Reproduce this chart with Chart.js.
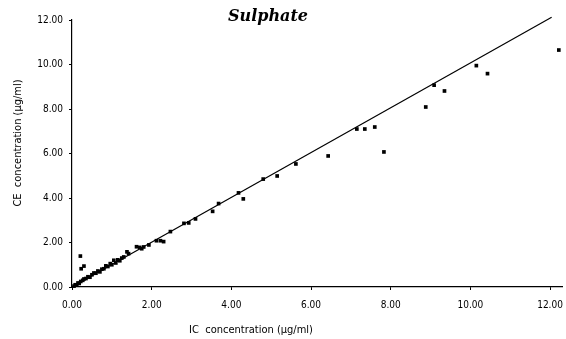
<!DOCTYPE html>
<html>
<head>
<meta charset="utf-8">
<script src="https://cdn.jsdelivr.net/npm/chart.js@4"></script>
<style>
  body { margin: 0; background: #fff; }
  #wrap { width: 566px; height: 339px; }
</style>
</head>
<body>
<div id="wrap"><canvas id="myChart" width="566" height="339"></canvas></div>
<script>
// measured pairs, IC (x) vs CE (y), in µg/ml
const icValues = [
  0.05, 0.08, 0.12, 0.15, 0.18, 0.21, 0.23, 0.30, 0.22, 0.27,
  0.30, 0.35, 0.40, 0.45, 0.50, 0.55, 0.60, 0.65, 0.70, 0.75,
  0.80, 0.85, 0.90, 0.96, 1.00, 1.05, 1.10, 1.15, 1.20, 1.25,
  1.30, 1.38, 1.42, 1.62, 1.70, 1.75, 1.80, 1.93, 2.12, 2.22,
  2.30, 2.47, 2.81, 2.93, 3.10, 3.53, 3.68, 4.18, 4.30, 4.80,
  5.15, 5.62, 6.43, 7.15, 7.35, 7.60, 7.83, 8.88, 9.09, 9.35,
  10.15, 10.43, 12.22
];
const ceValues = [
  0.04, 0.10, 0.09, 0.18, 0.16, 1.39, 0.82, 0.94, 0.25, 0.30,
  0.36, 0.38, 0.46, 0.44, 0.55, 0.63, 0.62, 0.72, 0.68, 0.80,
  0.82, 0.95, 0.92, 1.05, 1.00, 1.20, 1.08, 1.22, 1.18, 1.30,
  1.35, 1.58, 1.50, 1.81, 1.78, 1.72, 1.80, 1.89, 2.08, 2.08,
  2.04, 2.49, 2.86, 2.88, 3.06, 3.40, 3.75, 4.23, 3.96, 4.85,
  4.99, 5.53, 5.89, 7.10, 7.10, 7.19, 6.07, 8.09, 9.07, 8.81,
  9.95, 9.59, 10.65
];

// regression line end points
const fitX = [0, 12.04];
const fitY = [0, 12.12];

// tick values for both axes
const tickValues = [0, 2, 4, 6, 8, 10, 12];
const xRoom = 12.3;   // a bit of room so the 12.22 point is still drawn

const titleText = 'Sulphate';
const xTitle = 'IC  concentration (\u00b5g/ml)';
const yTitle = 'CE  concentration (\u00b5g/ml)';

const tickFont = { family: 'Liberation Sans Narrow, DejaVu Sans Condensed, sans-serif', size: 10 };
const labelFont = '11px "DejaVu Sans Condensed", "Liberation Sans Narrow", sans-serif';

const points = icValues.map((x, i) => ({ x: x, y: ceValues[i] }));
const fitLine = fitX.map((x, i) => ({ x: x, y: fitY[i] }));

// chart title + axis titles, placed like the original figure
const textPlugin = {
  id: 'plotTexts',
  afterDraw(chart) {
    const ctx = chart.ctx;
    ctx.save();
    ctx.fillStyle = '#000';
    ctx.textAlign = 'center';
    ctx.textBaseline = 'middle';
    ctx.font = 'italic bold 16px "DejaVu Serif", serif';
    ctx.fillText(titleText, 268, 17);
    ctx.font = labelFont;
    ctx.fillText(xTitle, 251, 330);
    ctx.translate(18, 143);
    ctx.rotate(-Math.PI / 2);
    ctx.fillText(yTitle, 0, 0);
    ctx.restore();
  }
};

const axisStyle = {
  type: 'linear',
  min: 0,
  grid: { display: true, drawOnChartArea: false, drawTicks: true, tickLength: 3, color: '#000', lineWidth: 1 },
  border: { display: true, color: '#000', width: 1.2 },
  afterBuildTicks(scale) { scale.ticks = tickValues.map(v => ({ value: v })); }
};

const config = {
  type: 'scatter',
  data: {
    datasets: [
      {
        type: 'line',
        data: fitLine,
        borderColor: '#000',
        borderWidth: 1.2,
        pointRadius: 0,
        fill: false,
        clip: false
      },
      {
        data: points,
        backgroundColor: '#000',
        borderColor: '#000',
        borderWidth: 0,
        pointStyle: 'rect',
        pointRadius: 2.6,
        clip: false
      }
    ]
  },
  options: {
    responsive: false,
    animation: false,
    layout: { padding: { top: 20, right: 3, left: 0, bottom: 0 } },
    plugins: { legend: { display: false }, tooltip: { enabled: false } },
    scales: {
      x: Object.assign({}, axisStyle, {
        max: xRoom,
        ticks: { color: '#000', font: tickFont, padding: 9, maxRotation: 0, autoSkip: false,
                 callback: v => v.toFixed(2) },
        afterFit(scale) {
          scale.height = 52;
          scale.paddingLeft = 0;
          scale.paddingRight = 0;
        }
      }),
      y: Object.assign({}, axisStyle, {
        max: tickValues[tickValues.length - 1],
        ticks: { color: '#000', font: tickFont, padding: 6, autoSkip: false,
                 callback: v => v.toFixed(2) },
        afterFit(scale) {
          scale.width = 72;
          scale.paddingTop = 0;
          scale.paddingBottom = 0;
        }
      })
    }
  },
  plugins: [textPlugin]
};

// eslint-disable-next-line
const myChart = new Chart(document.getElementById('myChart'), config);
</script>
</body>
</html>
